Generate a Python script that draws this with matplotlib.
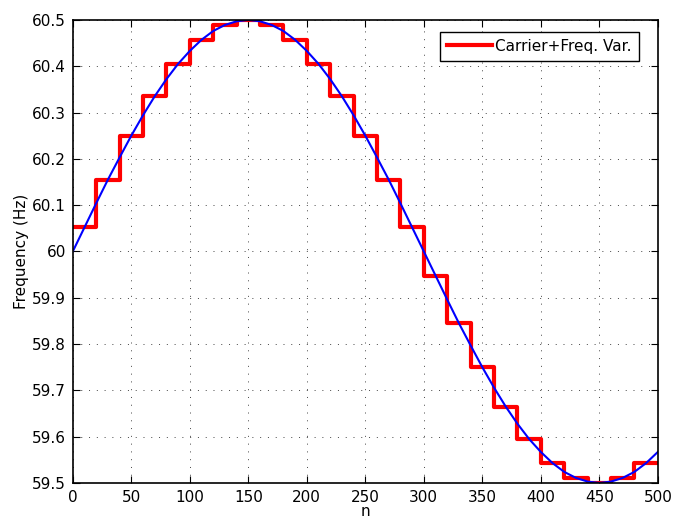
import numpy as np
import matplotlib
matplotlib.use("Agg")
import matplotlib.pyplot as plt

# frecuencia continua (cada 10 muestras)
n_cont = list(range(0, 501, 10))
f_cont = [60.000, 60.052, 60.104, 60.155, 60.203, 60.250, 60.294, 60.335, 60.372, 60.405,
          60.433, 60.457, 60.476, 60.489, 60.497, 60.500, 60.497, 60.489, 60.476, 60.457,
          60.433, 60.405, 60.372, 60.335, 60.294, 60.250, 60.203, 60.155, 60.104, 60.052,
          60.000, 59.948, 59.896, 59.845, 59.797, 59.750, 59.706, 59.665, 59.628, 59.595,
          59.567, 59.543, 59.524, 59.511, 59.503, 59.500, 59.503, 59.511, 59.524, 59.543,
          59.567]

# portadora + variacion de frecuencia (escalones de 20 muestras)
n_step = list(range(0, 501, 20))
f_step = [60.052, 60.155, 60.250, 60.335, 60.405, 60.457, 60.489, 60.500, 60.489, 60.457,
          60.405, 60.335, 60.250, 60.155, 60.052, 59.948, 59.845, 59.750, 59.665, 59.595,
          59.543, 59.511, 59.500, 59.511, 59.543]

yticks = [59.5, 59.6, 59.7, 59.8, 59.9, 60.0, 60.1, 60.2, 60.3, 60.4, 60.5]
ylabels = ["59.5", "59.6", "59.7", "59.8", "59.9", "60", "60.1", "60.2", "60.3", "60.4", "60.5"]
xticks = [0, 50, 100, 150, 200, 250, 300, 350, 400, 450, 500]

fig = plt.figure(figsize=(6.74, 5.18), dpi=100)
ax = fig.add_axes([0.108, 0.0676, 0.868, 0.894])

ax.plot(n_step, f_step + [f_step[-1]], drawstyle="steps-post", color="red", lw=3,
        label="Carrier+Freq. Var.")
ax.plot(n_cont, f_cont, color="blue", lw=1.5)

ax.set_xlim(0, 500)
ax.set_ylim(59.5, 60.5)
ax.set_xticks(xticks)
ax.set_yticks(yticks)
ax.set_yticklabels(ylabels)
ax.tick_params(direction="in", top=True, right=True, length=5, labelsize=11, pad=5)
ax.grid(True, linestyle=(0, (1, 7)), color="#444444", lw=0.7)
for s in ax.spines.values():
    s.set_linewidth(1.2)

ax.set_xlabel("n", fontsize=11, labelpad=-1)
ax.set_ylabel("Frequency (Hz)", fontsize=11, labelpad=2)

leg = ax.legend(loc="upper right", fontsize=11, fancybox=False, framealpha=1,
                edgecolor="black", handlelength=3, handletextpad=0.2, borderpad=0.45,
                borderaxespad=0, bbox_to_anchor=(0.9675, 0.974))
leg.get_frame().set_linewidth(1.0)

fig.savefig("out.png", dpi=100)
